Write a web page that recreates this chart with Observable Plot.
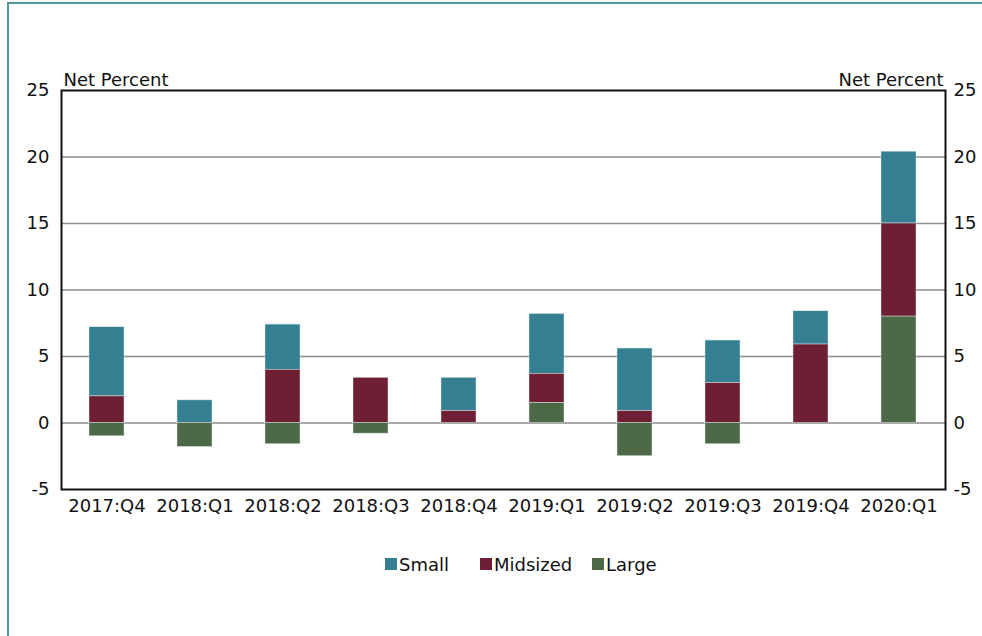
<!DOCTYPE html>
<html>
<head>
<meta charset="utf-8">
<script src="https://cdn.jsdelivr.net/npm/d3@7"></script>
<script src="https://cdn.jsdelivr.net/npm/@observablehq/plot@0.6"></script>
<style>
  html, body { margin: 0; padding: 0; background: #fff; }
  #wrap { position: relative; width: 982px; height: 636px; overflow: hidden; font-family: "DejaVu Sans", sans-serif; }
  #borderTop { position: absolute; left: 7px; top: 2px; width: 975px; height: 2px; background: #4f9a98; }
  #borderLeft { position: absolute; left: 7px; top: 2px; width: 2px; height: 634px; background: #4f9a98; }
  #chart { position: absolute; left: 0; top: 0; }
  #legend { position: absolute; left: 0; top: 553px; width: 982px; height: 22px; font-size: 18px; color: #111; }
  .item { position: absolute; top: 0; display: flex; align-items: center; height: 22px; }
  .sw { width: 12px; height: 12px; margin-right: 2px; }
</style>
</head>
<body>
<div id="wrap">
  <div id="borderTop"></div>
  <div id="borderLeft"></div>
  <div id="chart"></div>
  <div id="legend"></div>
</div>
<script>
const quarters = ["2017:Q4","2018:Q1","2018:Q2","2018:Q3","2018:Q4","2019:Q1","2019:Q2","2019:Q3","2019:Q4","2020:Q1"];
const small    = [5.2, 1.7, 3.4, 0.0, 2.5, 4.5, 4.7, 3.2, 2.5, 5.4];
const midsized = [2.0, 0.0, 4.0, 3.4, 0.9, 2.2, 0.9, 3.0, 5.9, 7.0];
const large    = [-1.0, -1.8, -1.6, -0.8, 0.0, 1.5, -2.5, -1.6, 0.0, 8.0];
const seriesNames = ["Small", "Midsized", "Large"];
const seriesColors = ["#367f93", "#6e1f33", "#4d6846"];
const yTicks = [-5, 0, 5, 10, 15, 20, 25];
const gridLines = [0, 5, 10, 15, 20];
const axisTitle = "Net Percent";

const seriesValues = {Small: small, Midsized: midsized, Large: large};
const data = [];
quarters.forEach((q, i) => {
  seriesNames.forEach(s => data.push({quarter: q, series: s, value: seriesValues[s][i]}));
});

const font = "DejaVu Sans, sans-serif";
const fmt = d => String(d);
const chart = Plot.plot({
  width: 982,
  height: 530,
  marginLeft: 61,
  marginRight: 37,
  marginTop: 90,
  marginBottom: 41,
  style: {fontFamily: font, fontSize: "18px", color: "#111", background: "transparent"},
  x: {domain: quarters, paddingInner: 0.6, paddingOuter: 0.3, label: null},
  y: {domain: [-5, 25], label: null},
  color: {domain: seriesNames, range: seriesColors},
  marks: [
    Plot.ruleY(gridLines, {stroke: "#8c8c8c", strokeWidth: 1.5}),
    Plot.barY(data, {x: "quarter", y: "value", fill: "series", order: ["Large", "Midsized", "Small"], stroke: "#d8e6e6", strokeWidth: 0.5}),
    Plot.frame({stroke: "#111", strokeWidth: 2}),
    Plot.axisY(yTicks, {anchor: "left", tickSize: 0, tickPadding: 12, label: null, tickFormat: fmt, fontSize: 18}),
    Plot.axisY(yTicks, {anchor: "right", tickSize: 0, tickPadding: 8, label: null, tickFormat: fmt, fontSize: 18}),
    Plot.axisX({tickSize: 0, tickPadding: 10, label: null, fontSize: 18}),
    Plot.text([axisTitle], {frameAnchor: "top-left", textAnchor: "start", lineAnchor: "bottom", dx: 2, dy: -5, fontSize: 18, fill: "#111"}),
    Plot.text([axisTitle], {frameAnchor: "top-right", textAnchor: "end", lineAnchor: "bottom", dx: -2, dy: -5, fontSize: 18, fill: "#111"})
  ]
});
document.getElementById("chart").appendChild(chart);

const legendLefts = [385, 480, 592];
const legend = document.getElementById("legend");
seriesNames.forEach((s, i) => {
  const it = document.createElement("div");
  it.className = "item";
  it.style.left = legendLefts[i] + "px";
  const sw = document.createElement("div");
  sw.className = "sw";
  sw.style.background = seriesColors[i];
  const t = document.createElement("span");
  t.textContent = s;
  it.appendChild(sw); it.appendChild(t);
  legend.appendChild(it);
});
</script>
</body>
</html>
